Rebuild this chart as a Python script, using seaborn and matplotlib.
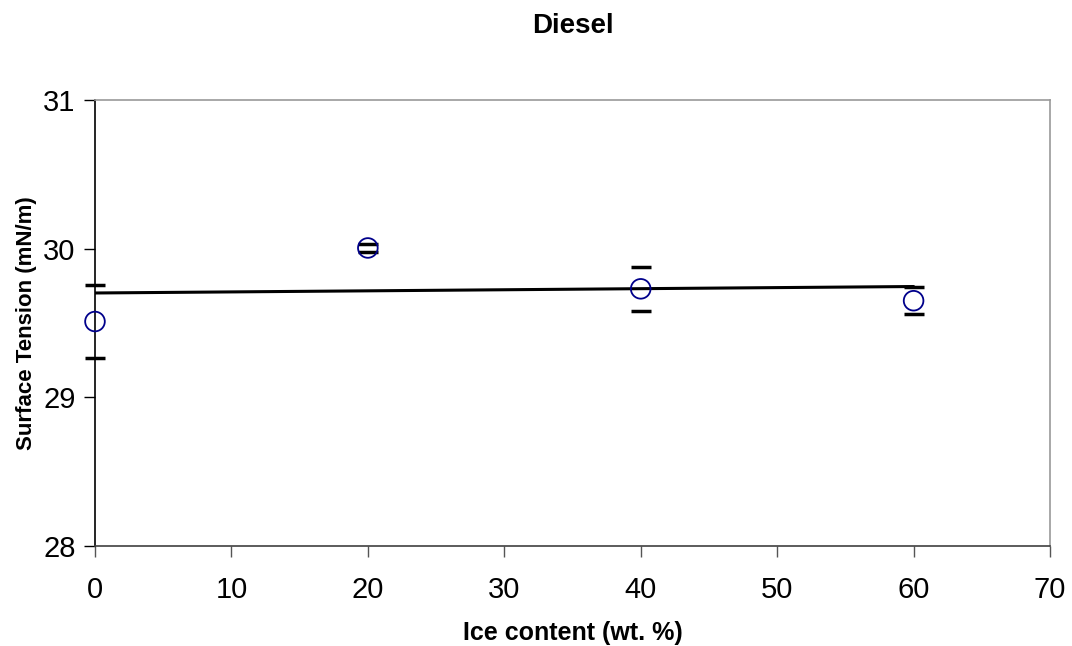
import numpy as np
import pandas as pd
import seaborn as sns
import matplotlib
matplotlib.use("Agg")
import matplotlib.pyplot as plt

# data
ice_content = [0, 20, 40, 60]
surface_tension = [29.51, 30.005, 29.73, 29.65]
error = [0.245, 0.025, 0.15, 0.09]

df = pd.DataFrame({"ice": ice_content, "st": surface_tension, "err": error})

sns.set_style("white")
plt.rcParams["font.family"] = ["Liberation Sans", "DejaVu Sans"]
plt.rcParams["text.color"] = "black"
plt.rcParams["axes.labelcolor"] = "black"

fig, ax = plt.subplots(figsize=(10.72, 6.46), dpi=100)
fig.subplots_adjust(left=0.0886, right=0.9795, top=0.845, bottom=0.155)

# error caps only (no vertical line)
eb = ax.errorbar(df["ice"], df["st"], yerr=df["err"], fmt="none", ecolor="black",
                 elinewidth=0, capsize=7, capthick=2.5, zorder=2)
for art in eb.lines[1]:
    art.set_clip_on(False)

# linear trend line
sns.regplot(x="ice", y="st", data=df, scatter=False, ci=None, truncate=True,
            line_kws={"color": "black", "linewidth": 2.2}, ax=ax)

# open circle markers
sns.scatterplot(x="ice", y="st", data=df, marker="o", s=200, facecolor="none",
                edgecolor="#00008B", linewidth=1.3, zorder=4, clip_on=False, ax=ax)

ax.set_xlim(0, 70)
ax.set_ylim(28, 31)
ax.set_xticks(range(0, 71, 10))
ax.set_yticks([28, 29, 30, 31])

ax.set_title("Diesel", fontsize=20, fontweight="bold", pad=48)
ax.set_xlabel("Ice content (wt. %)", fontsize=18, fontweight="bold", labelpad=12)
ax.set_ylabel("Surface Tension (mN/m)", fontsize=16, fontweight="bold", labelpad=4)

ax.tick_params(axis="both", direction="out", length=8, width=1, labelsize=21,
               colors="black", bottom=True, left=True)
ax.tick_params(axis="x", color="#555555", pad=14)
ax.tick_params(axis="y", pad=6)

ax.spines["left"].set_color("black")
ax.spines["bottom"].set_color("#404040")
ax.spines["top"].set_color("#999999")
ax.spines["right"].set_color("#999999")
for s in ax.spines.values():
    s.set_linewidth(1.2)

fig.savefig("out.png", dpi=100)
